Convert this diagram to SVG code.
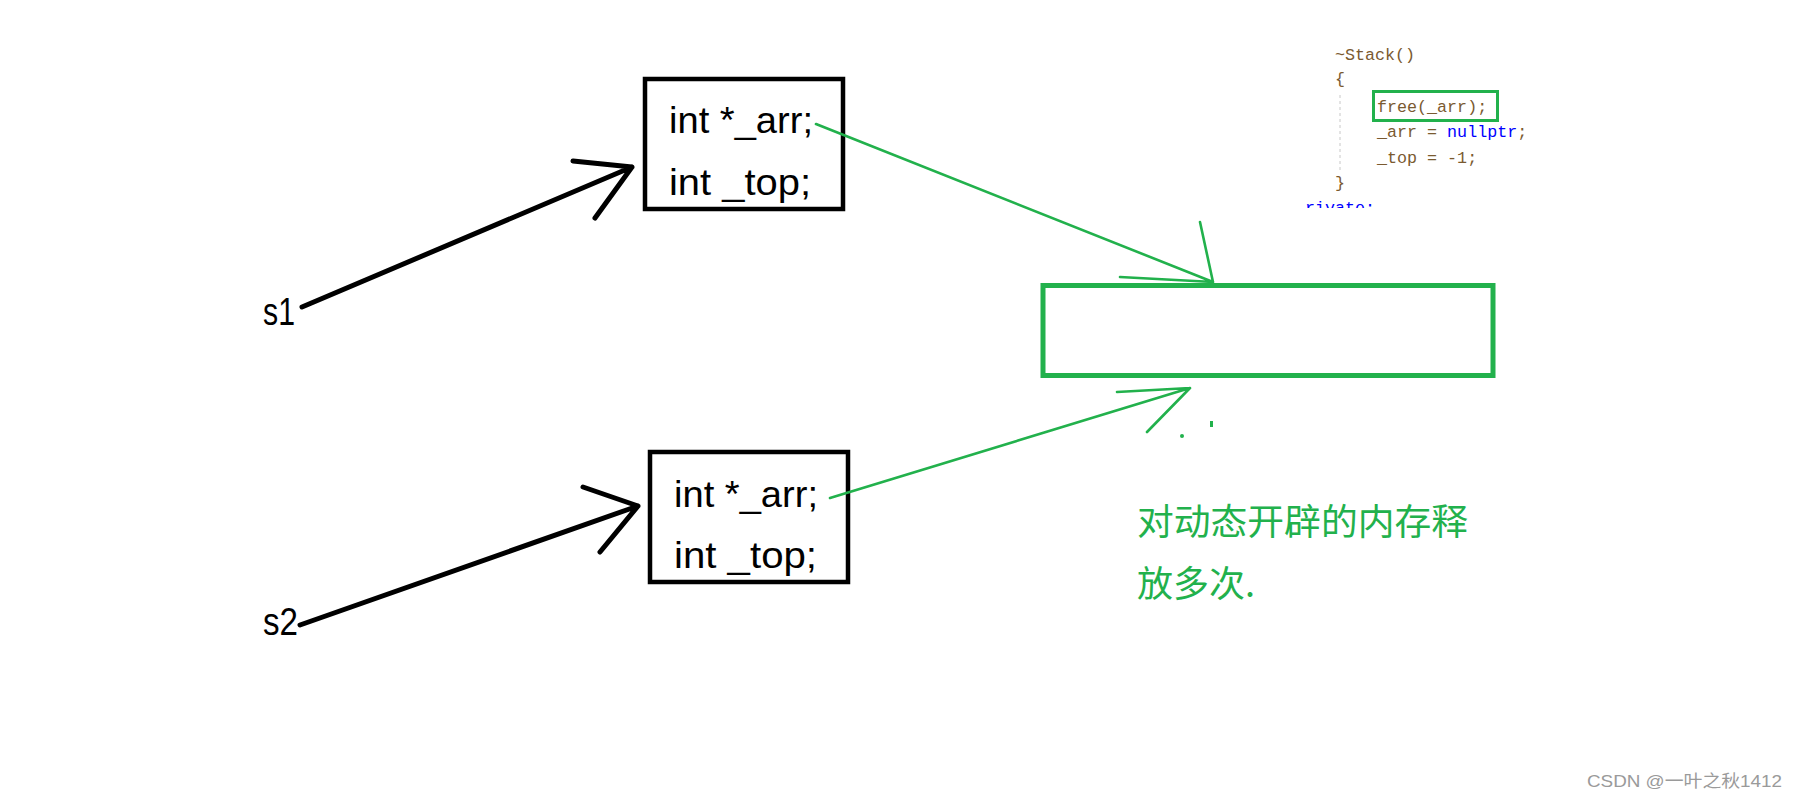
<svg xmlns="http://www.w3.org/2000/svg" width="1800" height="800" viewBox="0 0 1800 800">
  <style>
    .box { fill: none; stroke: #000; stroke-width: 4.5; }
    .boxtxt { font-family: "Liberation Sans", "DejaVu Sans", sans-serif; font-size: 37px; fill: #000; }
    .lbl { font-family: "Liberation Sans", "DejaVu Sans", sans-serif; font-size: 39px; fill: #000; }
    .blk { fill: none; stroke: #000; stroke-width: 5; stroke-linecap: round; stroke-linejoin: round; }
    .grn { fill: none; stroke: #22b14c; stroke-width: 2.6; stroke-linecap: round; stroke-linejoin: round; }
    .code { font-family: "Liberation Mono", "DejaVu Sans Mono", monospace; font-size: 16.7px; fill: #7a5a30; }
    .kw { fill: #0000ff; }
    .note { font-family: "Noto Sans CJK SC", "Noto Sans", sans-serif; font-size: 36px; fill: #22b14c; }
    .wm { font-family: "Liberation Sans", "Noto Sans CJK SC", sans-serif; font-size: 17px; fill: #9a9a9a; }
  </style>
  <defs>
    <clipPath id="codeclip">
      <rect x="1306" y="20" width="260" height="188"/>
    </clipPath>
  </defs>
  <rect width="1800" height="800" fill="#fff"/>

  <g id="node-box1">
    <rect class="box" x="645" y="79" width="198" height="130"/>
    <text class="boxtxt" x="669" y="133" textLength="144" lengthAdjust="spacingAndGlyphs">int *_arr;</text>
    <text class="boxtxt" x="669" y="195" textLength="142" lengthAdjust="spacingAndGlyphs">int _top;</text>
  </g>

  <g id="node-box2">
    <rect class="box" x="650" y="452" width="198" height="130"/>
    <text class="boxtxt" x="674" y="507" textLength="144" lengthAdjust="spacingAndGlyphs">int *_arr;</text>
    <text class="boxtxt" x="674" y="568" textLength="143" lengthAdjust="spacingAndGlyphs">int _top;</text>
  </g>

  <g id="node-s1">
    <text class="lbl" x="263" y="325" textLength="32" lengthAdjust="spacingAndGlyphs">s1</text>
  </g>
  <g id="node-s2">
    <text class="lbl" x="263" y="635" textLength="35" lengthAdjust="spacingAndGlyphs">s2</text>
  </g>

  <g id="node-heap">
    <rect x="1043" y="285.5" width="450" height="90" fill="none" stroke="#22b14c" stroke-width="5"/>
  </g>

  <g id="node-code" clip-path="url(#codeclip)">
    <text class="code" x="1335" y="60">~Stack()</text>
    <text class="code" x="1335" y="84">{</text>
    <line x1="1340" y1="95" x2="1340" y2="173" stroke="#c8c8c8" stroke-width="1" stroke-dasharray="3,3"/>
    <text class="code" x="1377" y="112">free(_arr);</text>
    <rect x="1373.5" y="91.5" width="124" height="29" fill="none" stroke="#22b14c" stroke-width="3"/>
    <text class="code" x="1377" y="137">_arr = <tspan class="kw">nullptr</tspan>;</text>
    <text class="code" x="1377" y="163">_top = -1;</text>
    <text class="code" x="1335" y="188">}</text>
    <text class="code kw" x="1295" y="213">private:</text>
  </g>

  <g id="node-note">
    <text class="note" x="1137" y="535" textLength="331" lengthAdjust="spacingAndGlyphs">对动态开辟的内存释</text>
    <text class="note" x="1137" y="597">放多次.</text>
  </g>

  <g id="connectors">
    <path class="blk" d="M302,307 L632,167 M573,161 L632,167 L595,218"/>
    <path class="blk" d="M300,625 L638,506 M583,487 L638,506 L600,552"/>
    <path class="grn" d="M816,124 L1213,282 M1200,222 L1213,282 L1120,277"/>
    <path class="grn" d="M830,498 L1190,388 M1117,392 L1190,388 L1147,432"/>
    <rect x="1210" y="421" width="3" height="6" fill="#22b14c"/>
    <circle cx="1182" cy="436" r="2" fill="#22b14c"/>
  </g>

  <g id="watermark">
    <text class="wm" x="1587" y="787" textLength="195" lengthAdjust="spacingAndGlyphs">CSDN @一叶之秋1412</text>
  </g>
</svg>
